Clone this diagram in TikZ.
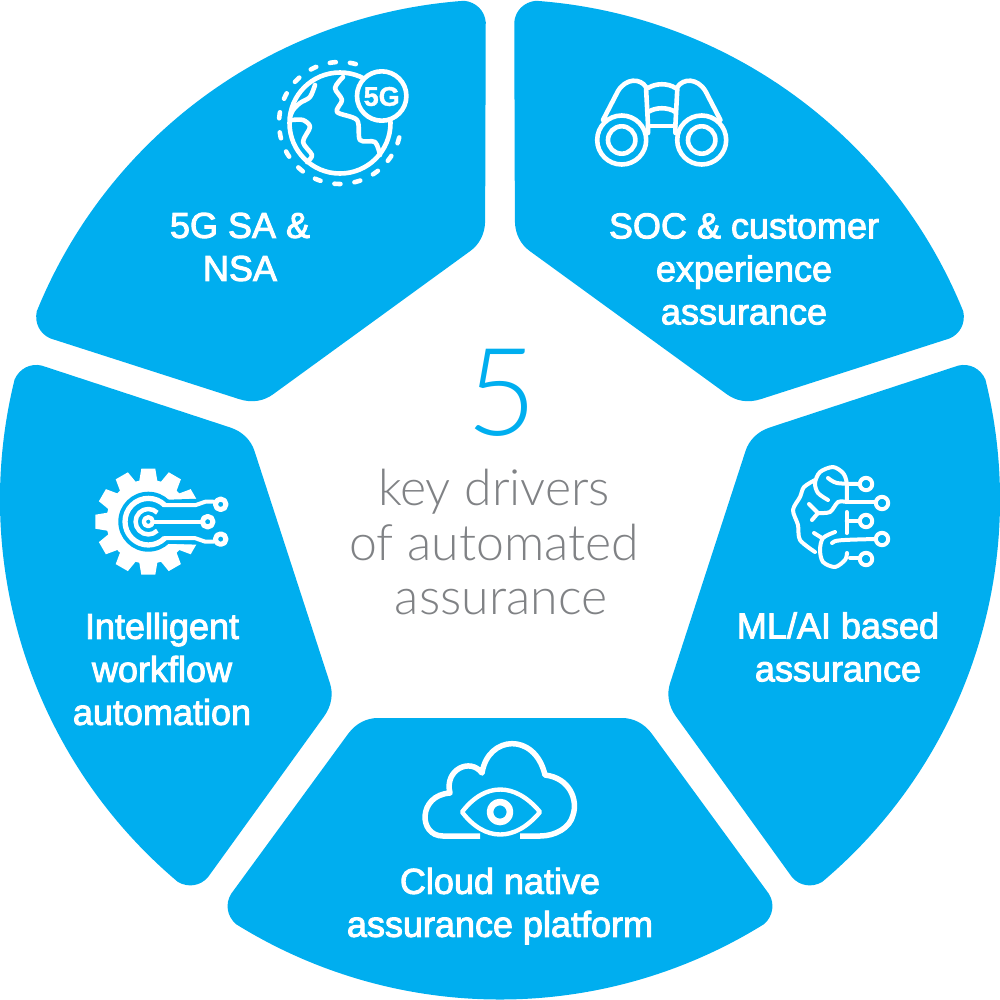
\documentclass[tikz,border=0pt]{standalone}
\usepackage{fontspec}
\setmainfont{Liberation Sans}
\newfontfamily\lightf[UprightFont={* Light}]{Lato}
\newfontfamily\labelf[FakeBold=2.6]{Liberation Sans}
\newfontfamily\iconf[FakeBold=1.5,BoldFont={Liberation Sans Bold}]{Liberation Sans}
\definecolor{brand}{HTML}{00AEEF}
\definecolor{midgrey}{HTML}{808285}
\tikzset{
  segment/.style={fill=brand,draw=none},
  ico/.style={draw=white,line width=4.6pt,line cap=round,line join=round},
  lbl/.style={text=white,font=\labelf\fontsize{36}{43}\selectfont,align=center,inner sep=0pt},
  centre/.style={text=midgrey,font=\lightf\fontsize{50}{54.5}\selectfont,align=center,inner sep=0pt},
}
\begin{document}
\begin{tikzpicture}[x=1pt,y=-1pt]
\useasboundingbox (0,0) rectangle (1000,999);
\foreach \a in {0,72,144,216,288}{
  \fill[segment,rotate around={\a:(500,499.5)}]
    (378,718) -- (622,718) .. controls (633,718) and (644,723) .. (652,734)
    -- (769,894) .. controls (775,904) and (773,916) .. (764.2,924)
    arc[start angle=-58.1,end angle=-121.9,radius=500pt]
    .. controls (227,916) and (225,904) .. (231,894)
    -- (348,734) .. controls (356,723) and (367,718) .. (378,718) -- cycle;
}
% centre
\node[text=brand,font=\lightf\fontsize{122}{122}\selectfont,inner sep=0pt] (five) at (502,393) {5};
\node[centre] (centretext) at (494,542) {key drivers\\of automated\\\hspace*{14pt}assurance};
% labels
\node[lbl] (l1) at (240,247) {5G SA \&\\NSA};
\node[lbl] (l2) at (744,269) {SOC \& customer\\experience\\assurance};
\node[lbl] (l3) at (838,647) {ML/AI based\\assurance};
\node[lbl] (l4) at (500,906) {Cloud native\\assurance platform};
\node[lbl] (l5) at (162,669) {Intelligent\\workflow\\automation};
% globe
\draw[ico] (340,123) circle[radius=50.5];
\draw[ico,dash pattern=on 6pt off 14.2pt] (340,123) ++(75:61pt) arc[start angle=75,end angle=357,radius=61pt];
\draw[ico] plot[smooth] coordinates {(315,85) (310,97) (300,103) (293,110) (290,117)};
\draw[ico] plot[smooth] coordinates {(292,120) (303,120) (310,127) (303,142) (312,155) (307,162)};
\draw[ico] plot[smooth] coordinates {(343,77) (335,88) (342,100) (337,112) (357,120) (360,140) (375,142) (380,155)};
\filldraw[ico,fill=brand] (381.7,96) circle[radius=24.7];
\node[text=white,font=\iconf\bfseries\fontsize{27}{27}\selectfont,inner sep=0pt] (fiveg) at (381.7,96.5) {5G};
% binoculars
\begin{scope}[ico]
\draw (621.7,140) circle[radius=24.5];
\draw (621.7,140) circle[radius=13.7];
\draw (701.7,140) circle[radius=24.5];
\draw (701.7,140) circle[radius=13.7];
\draw (603,120) -- (618,91) .. controls (626,78) and (640,78) .. (646,87) -- (648,125) -- (648,133);
\draw (720.4,120) -- (705.4,91) .. controls (697.4,78) and (683.4,78) .. (677.4,87) -- (675.4,125) -- (675.4,133);
\draw (648,88) .. controls (656,83) and (668,83) .. (675.4,88);
\draw (648,112) .. controls (656,107) and (668,107) .. (675.4,112);
\draw (648,126) -- (675.4,126);
\end{scope}
% brain
\begin{scope}[ico,line width=4pt]
\draw plot[smooth] coordinates {(828,500) (818,493) (815,483) (820,472) (833,467) (843,473) (846.7,483) (846.7,502)};
\draw plot[smooth] coordinates {(815,480) (804,487) (800,497) (793,510) (798,525) (800,540) (815,552)};
\draw plot[smooth] coordinates {(835,532) (823,538) (820,550) (823,562) (835,567) (845,560) (847,553)};
\draw (846.7,502) -- (875,502);
\draw plot[smooth] coordinates {(846.7,502) (838,502) (830,512) (818,513)};
\draw plot[smooth] coordinates {(828,478) (837,483) (858,484)};
\draw (818,513) -- (809,504);
\draw (818,513) -- (812,520);
\draw (846.7,512) -- (846.7,533);
\draw (846.7,521) -- (858,521);
\draw (832,543) .. controls (835,540) and (838,540) .. (875,539);
\draw (814,533) -- (822,538);
\draw (850,558) -- (858,558);
\draw (866,484) circle[radius=6.2];
\draw (882,503) circle[radius=6.2];
\draw (866,521) circle[radius=6.2];
\draw (882,539) circle[radius=6.2];
\draw (866,559) circle[radius=6.2];
\end{scope}
% cloud
\begin{scope}[ico,line width=5.5pt]
\draw[line cap=butt] (480,836) -- (443,836) .. controls (418,836) and (418,795) .. (450,793)
  .. controls (444,770) and (470,757) .. (482,773)
  .. controls (488,735) and (535,732) .. (545,775)
  .. controls (570,778) and (578,800) .. (573,815)
  .. controls (570,828) and (555,836) .. (540,836) -- (520,836);
\draw[line width=4.4pt] (462,812) .. controls (485,782) and (515,782) .. (540,812)
  .. controls (515,842) and (485,842) .. (462,812) -- cycle;
\draw[line width=6.6pt] (500,812) circle[radius=10];
\end{scope}
% gear
\begin{scope}[shift={(148.3,521.7)}]
\fill[white] (0,0) circle[radius=42];
\foreach \a in {30,60,...,330}{
  \fill[white,rotate=\a] (38,-9.5) -- (53,-7) -- (53,7) -- (38,9.5) -- cycle;
}
\fill[brand] (19.5,-22) -- (50,-23) -- (57,0) -- (50,23) -- (19.5,22) -- cycle;
\fill[brand] (0,0) circle[radius=30];
\draw[ico,line width=5.3pt,line cap=butt] (16.5,-16.5) arc[start angle=45,end angle=315,radius=23.3pt];
\draw[ico,line width=4.5pt,line cap=butt] (9,-9) arc[start angle=45,end angle=315,radius=12.7pt];
\draw[ico,line width=4.3pt] (0,0) circle[radius=4.5];
\draw[ico,line width=4pt] (5,0) -- (54,0);
\draw[ico,line width=4pt] (16,-16.5) -- (47,-16.5) -- (57,-20) -- (65,-20);
\draw[ico,line width=4pt] (16,16.5) -- (47,16.5) -- (57,20) -- (65,20);
\draw[ico,line width=5pt] (59.4,0) circle[radius=5.3];
\draw[ico,line width=5pt] (72.4,-17.4) circle[radius=5.3];
\draw[ico,line width=5pt] (72.4,17.4) circle[radius=5.3];
\end{scope}
\end{tikzpicture}
\end{document}
